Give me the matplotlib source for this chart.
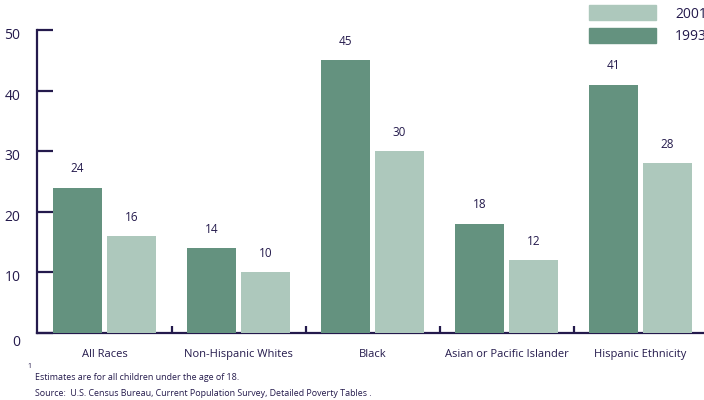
import matplotlib
matplotlib.use("Agg")
import matplotlib.pyplot as plt
import numpy as np

categories = ["All Races", "Non-Hispanic Whites", "Black", "Asian or Pacific Islander", "Hispanic Ethnicity"]
values_1993 = [24, 14, 45, 18, 41]
values_2001 = [16, 10, 30, 12, 28]
y_ticks = [0, 10, 20, 30, 40, 50]

DARK = "#64927f"
LIGHT = "#adc8bc"
NAVY = "#241a4c"

plt.rcParams['font.family'] = ['Open Sans', 'DejaVu Sans']

fig = plt.figure(figsize=(7.04, 4.0), dpi=100)
ax = fig.add_axes([37/704, 67/400, 1 - 37/704, (333-30)/400])

x = np.arange(len(categories))
w = 49/134
off = 27/134
b1 = ax.bar(x - off, values_1993, width=w, color=DARK, zorder=3, label="1993")
b2 = ax.bar(x + off, values_2001, width=w, color=LIGHT, zorder=3, label="2001")

for rects, vals in ((b1, values_1993), (b2, values_2001)):
    for r, v in zip(rects, vals):
        ax.annotate(f"{v}", (r.get_x() + r.get_width()/2, v), xytext=(0, 9),
                    textcoords="offset points", ha="center", va="bottom",
                    fontsize=8.5, color=NAVY)

ax.set_xlim((37-104.5)/134, (704-104.5)/134)
ax.set_ylim(0, 50)

for s in ("top", "right"):
    ax.spines[s].set_visible(False)
for s in ("left", "bottom"):
    ax.spines[s].set_color(NAVY)
    ax.spines[s].set_linewidth(1.6)
    ax.spines[s].set_zorder(2)

ax.set_yticks(y_ticks)
ax.set_yticklabels([])
ax.tick_params(axis="y", direction="in", length=11.5, width=1.6, color=NAVY)
for t in y_ticks:
    ty = t - (0.3 if t == 0 else 0.9)
    ax.text(-0.025, ty, str(t), transform=ax.get_yaxis_transform(), ha="right",
            va="top" if t == 0 else "center", fontsize=10, color=NAVY)

ax.set_xticks(np.arange(len(categories) - 1) + (172-104.5)/134)
ax.set_xticklabels([])
ax.tick_params(axis="x", direction="in", length=5, width=1.6, color=NAVY)

for xi, c in zip(x, categories):
    ax.text(xi, -3.6, c, ha="center", va="center", fontsize=8, color=NAVY)

# legend (manual)
fig.patches.append(plt.Rectangle((589/704, 1 - 20/400), 67/704, 15/400,
                                  transform=fig.transFigure, color=LIGHT))
fig.patches.append(plt.Rectangle((589/704, 1 - 43/400), 67/704, 15/400,
                                  transform=fig.transFigure, color=DARK))
fig.text(675/704, 1 - 14/400, "2001", ha="left", va="center", fontsize=10, color=NAVY)
fig.text(675/704, 1 - 36/400, "1993", ha="left", va="center", fontsize=10, color=NAVY)

fig.text(27/704, 1 - 367/400, "1", ha="left", va="center", fontsize=5, color=NAVY)
fig.text(35/704, 1 - 378/400, "Estimates are for all children under the age of 18.",
         ha="left", va="center", fontsize=6.4, color=NAVY)
fig.text(35/704, 1 - 394/400, "Source:  U.S. Census Bureau, Current Population Survey, Detailed Poverty Tables .",
         ha="left", va="center", fontsize=6.4, color=NAVY)

fig.savefig("out.png", dpi=100)
